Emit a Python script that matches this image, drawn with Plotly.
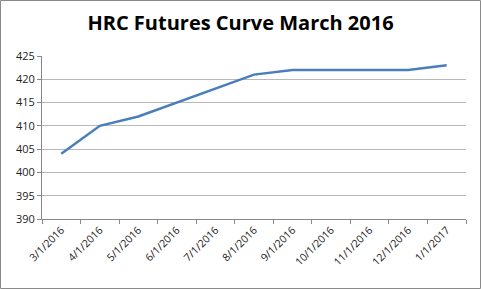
import plotly.graph_objects as go

categories = ["3/1/2016", "4/1/2016", "5/1/2016", "6/1/2016", "7/1/2016", "8/1/2016",
              "9/1/2016", "10/1/2016", "11/1/2016", "12/1/2016", "1/1/2017"]
prices = [404, 410, 412, 415, 418, 421, 422, 422, 422, 422, 423]
y_ticks = [390, 395, 400, 405, 410, 415, 420, 425]
title_text = "HRC Futures Curve March 2016"

W, H = 481, 289
L, R, T, B = 42, 15, 56, 70
pw, ph = W - L - R, H - T - B

fig = go.Figure()
fig.add_trace(go.Scatter(x=categories, y=prices, mode="lines",
                         line=dict(color="#4a7ebb", width=2.5), showlegend=False))

fig.update_layout(
    width=W, height=H,
    margin=dict(l=L, r=R, t=T, b=B),
    paper_bgcolor="white", plot_bgcolor="white",
    font=dict(family="Open Sans, Liberation Sans, sans-serif", size=11, color="#222"),
    title=dict(text="<b>" + title_text + "</b>", x=0.5, xref="container", xanchor="center",
               y=1 - 23 / H, yanchor="middle", yref="container",
               font=dict(size=20, color="black")),
    xaxis=dict(type="category", tickangle=-45, showgrid=False, showline=True,
               linecolor="#888", linewidth=1, ticks="outside", tickson="boundaries",
               ticklen=4, tickcolor="#888", tickfont=dict(size=10.5, color="#222"),
               range=[-0.5, len(categories) - 0.5]),
    yaxis=dict(range=[390, 425], tickvals=y_ticks, showgrid=True, gridcolor="#b8b8b8",
               gridwidth=1, showline=True, linecolor="#888", linewidth=1,
               ticks="outside", ticklen=4, tickcolor="#888", zeroline=False,
               tickfont=dict(size=11, color="#222")),
    shapes=[dict(type="rect", xref="paper", yref="paper",
                 x0=(0.5 - L) / pw, x1=(W - 0.5 - L) / pw,
                 y0=-(H - 0.5 - T - ph) / ph, y1=(T + ph - 0.5) / ph,
                 line=dict(color="#8a8a8a", width=1), layer="below")],
)

fig.write_html("out.html")
